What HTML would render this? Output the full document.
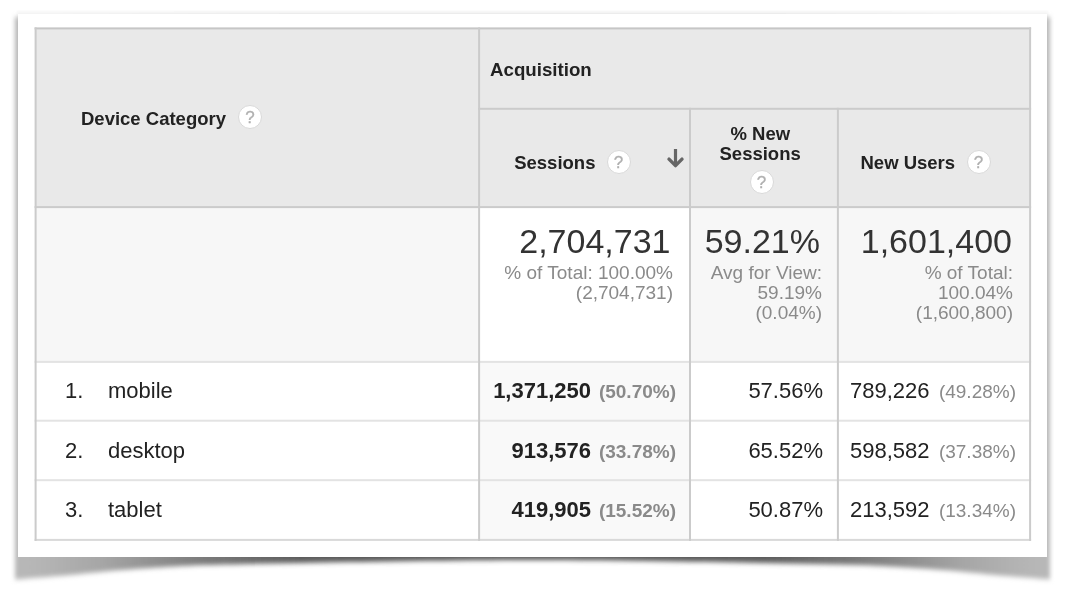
<!DOCTYPE html>
<html><head><meta charset="utf-8">
<style>
html,body{margin:0;padding:0;background:#fff;width:1066px;height:606px;overflow:hidden;position:relative;font-family:"Liberation Sans",Arial,Helvetica,sans-serif;}
.a{position:absolute;}
#paper{position:absolute;left:18px;top:14px;width:1029px;height:543px;background:#fff;}
.bg{position:absolute;}
.vl{position:absolute;width:2px;background:#cdcdcd;}
.hl{position:absolute;height:2px;background:#e4e4e4;}
.t{position:absolute;white-space:nowrap;line-height:1;color:#222;}
.b{font-weight:bold;}
.h{font-size:18.5px;font-weight:bold;color:#222;}
.big{font-size:34px;color:#333;}
.sub{font-size:19px;color:#8a8a8a;line-height:20px;text-align:right;}
.d{font-size:22px;color:#222;}
.ds{font-size:19px;color:#8a8a8a;}
.q{position:absolute;width:22px;height:22px;border-radius:50%;background:#fff;border:1px solid #d9d9d9;text-align:center;font-size:17px;line-height:23px;color:#b0b0b0;-webkit-text-stroke:0.3px #b0b0b0;}
</style></head><body><div id="wrap" style="position:absolute;left:0;top:0;width:1066px;height:606px;filter:blur(0.45px)">
<svg class="a" style="left:0;top:0" width="1066" height="606">
  <defs>
    <filter id="bl2" x="-5%" y="-100%" width="110%" height="300%"><feGaussianBlur stdDeviation="1 0.7"/></filter>
    <filter id="bl" x="-5%" y="-10%" width="110%" height="120%"><feGaussianBlur stdDeviation="2.2 2.5"/></filter>
    <linearGradient id="sg" x1="15" x2="1050" y1="0" y2="0" gradientUnits="userSpaceOnUse">
      <stop offset="0.0000" stop-color="#b8b8b8"/>
      <stop offset="0.0242" stop-color="#b5b5b5"/>
      <stop offset="0.0870" stop-color="#a5a5a5"/>
      <stop offset="0.1836" stop-color="#7a7a7a"/>
      <stop offset="0.2754" stop-color="#5c5c5c"/>
      <stop offset="0.3720" stop-color="#585858"/>
      <stop offset="0.5005" stop-color="#555555"/>
      <stop offset="0.6280" stop-color="#585858"/>
      <stop offset="0.7246" stop-color="#5c5c5c"/>
      <stop offset="0.8164" stop-color="#7a7a7a"/>
      <stop offset="0.9130" stop-color="#a5a5a5"/>
      <stop offset="0.9758" stop-color="#b5b5b5"/>
      <stop offset="1.0000" stop-color="#b8b8b8"/>
    </linearGradient>
  </defs>
  <rect x="17" y="10.5" width="1031" height="8" fill="#f9f9f9" filter="url(#bl2)"/>
  <path d="M15 17 L15.0 579.5 C19.2 579.2 30.8 578.2 40.0 577.5 C49.2 576.8 59.2 576.0 70.0 575.0 C80.8 574.0 91.7 572.7 105.0 571.5 C118.3 570.3 133.3 569.1 150.0 568.0 C166.7 566.9 180.0 565.8 205.0 565.0 C230.0 564.2 267.5 563.6 300.0 563.0 C332.5 562.4 361.2 561.7 400.0 561.2 C438.8 560.7 488.8 560.0 533.0 560.0 C577.2 560.0 626.3 560.7 665.0 561.2 C703.7 561.7 732.5 562.4 765.0 563.0 C797.5 563.6 835.0 564.2 860.0 565.0 C885.0 565.8 898.3 566.9 915.0 568.0 C931.7 569.1 946.7 570.3 960.0 571.5 C973.3 572.7 984.2 574.0 995.0 575.0 C1005.8 576.0 1015.8 576.8 1025.0 577.5 C1034.2 578.2 1045.8 579.2 1050.0 579.5 L1050 17 Z" fill="url(#sg)" filter="url(#bl)"/>
</svg>
<div id="paper"></div>

<!-- backgrounds -->
<div class="bg" style="left:35px;top:28px;width:996px;height:180px;background:#e9e9e9"></div>
<div class="bg" style="left:35px;top:207px;width:996px;height:155px;background:#f7f7f7"></div>
<div class="bg" style="left:479px;top:207px;width:211px;height:155px;background:#fff"></div>
<div class="bg" style="left:479px;top:362px;width:211px;height:179px;background:#f9f9f9"></div>

<!-- lines -->
<svg class="a" style="left:0;top:0" width="1066" height="606">
  <rect x="34.6" y="27.4" width="996.5" height="2.0" fill="#c6c6c6"/>
  <rect x="478.1" y="107.8" width="553.0" height="2.0" fill="#cbcbcb"/>
  <rect x="34.6" y="206.1" width="996.5" height="2.0" fill="#cbcbcb"/>
  <rect x="34.6" y="360.9" width="996.5" height="2.0" fill="#e3e3e3"/>
  <rect x="34.6" y="419.7" width="996.5" height="2.0" fill="#e3e3e3"/>
  <rect x="34.6" y="479.2" width="996.5" height="2.0" fill="#e3e3e3"/>
  <rect x="34.6" y="538.9" width="996.5" height="2.0" fill="#d9d9d9"/>
  <rect x="34.6" y="27.4" width="2.0" height="513.5" fill="#cbcbcb"/>
  <rect x="478.1" y="27.4" width="2.0" height="513.5" fill="#cbcbcb"/>
  <rect x="689.0" y="107.8" width="2.0" height="433.1" fill="#cbcbcb"/>
  <rect x="836.9" y="107.8" width="2.0" height="433.1" fill="#cbcbcb"/>
  <rect x="1029.1" y="27.4" width="2.0" height="513.5" fill="#cbcbcb"/>
</svg>
<!-- header text -->
<div class="t h" style="left:81px;top:109.5px;">Device Category</div>
<div class="q" style="left:238px;top:105px;">?</div>
<div class="t h" style="left:490px;top:60.6px;font-size:18.7px;">Acquisition</div>
<div class="t h" style="left:514.2px;top:154px;">Sessions</div>
<div class="q" style="left:606.5px;top:149.5px;">?</div>
<svg class="a" style="left:664px;top:146px" width="24" height="24" viewBox="0 0 24 24"><path d="M11.5 3 V18" stroke="#666" stroke-width="3.2" fill="none"/><path d="M5 13.1 L11.5 19.6 L18 13.1" stroke="#666" stroke-width="3.4" fill="none" stroke-linecap="round" stroke-linejoin="round"/></svg>
<div class="t h" style="left:730.5px;top:125px;">% New</div>
<div class="t h" style="left:719.5px;top:145px;">Sessions</div>
<div class="q" style="left:749.5px;top:169.5px;">?</div>
<div class="t h" style="left:860.5px;top:154px;">New Users</div>
<div class="q" style="left:966.5px;top:149.5px;">?</div>

<!-- totals -->
<div class="t big" style="right:395.5px;top:224px;">2,704,731</div>
<div class="t sub" style="right:393px;top:263px;">% of Total: 100.00%<br>(2,704,731)</div>
<div class="t big" style="right:246px;top:224px;">59.21%</div>
<div class="t sub" style="right:244px;top:263px;">Avg for View:<br>59.19%<br>(0.04%)</div>
<div class="t big" style="right:54px;top:224px;">1,601,400</div>
<div class="t sub" style="right:53px;top:263px;">% of Total:<br>100.04%<br>(1,600,800)</div>

<!-- rows -->
<div class="t d" style="left:65px;top:380px;">1.</div>
<div class="t d" style="left:108px;top:380px;">mobile</div>
<div class="t d" style="right:475px;top:380px;"><b>1,371,250</b></div>
<div class="t ds b" style="right:390px;top:382px;">(50.70%)</div>
<div class="t d" style="right:243px;top:380px;">57.56%</div>
<div class="t d" style="left:850px;top:380px;">789,226</div>
<div class="t ds" style="right:50px;top:382px;">(49.28%)</div>

<div class="t d" style="left:65px;top:440px;">2.</div>
<div class="t d" style="left:108px;top:440px;">desktop</div>
<div class="t d" style="right:475px;top:440px;"><b>913,576</b></div>
<div class="t ds b" style="right:390px;top:442px;">(33.78%)</div>
<div class="t d" style="right:243px;top:440px;">65.52%</div>
<div class="t d" style="left:850px;top:440px;">598,582</div>
<div class="t ds" style="right:50px;top:442px;">(37.38%)</div>

<div class="t d" style="left:65px;top:499px;">3.</div>
<div class="t d" style="left:108px;top:499px;">tablet</div>
<div class="t d" style="right:475px;top:499px;"><b>419,905</b></div>
<div class="t ds b" style="right:390px;top:501px;">(15.52%)</div>
<div class="t d" style="right:243px;top:499px;">50.87%</div>
<div class="t d" style="left:850px;top:499px;">213,592</div>
<div class="t ds" style="right:50px;top:501px;">(13.34%)</div>
</div></body></html>
